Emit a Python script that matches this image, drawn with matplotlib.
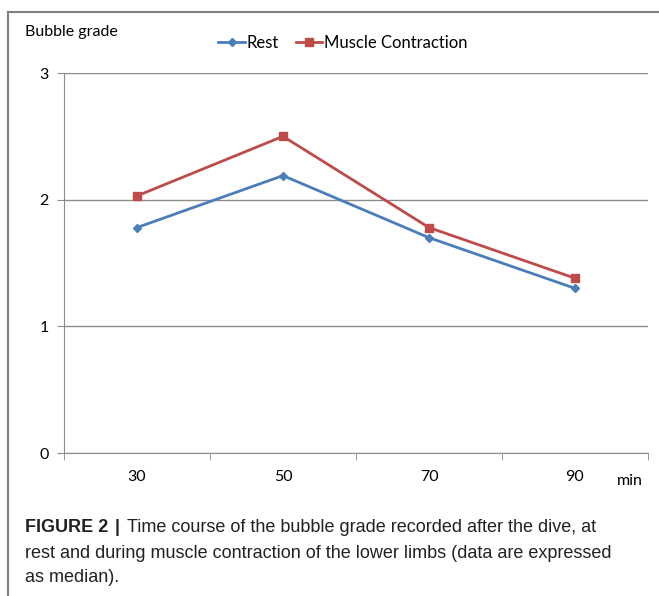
import matplotlib.pyplot as plt
from matplotlib.lines import Line2D

times = ["30", "50", "70", "90"]
rest = [1.78, 2.19, 1.70, 1.30]
contraction = [2.03, 2.50, 1.78, 1.38]
yticks = [0, 1, 2, 3]

blue = "#4A7EBB"
red = "#BE4B48"
grey = "#8c8c8c"

plt.rcParams['font.family'] = ['Lato', 'DejaVu Sans']

fig = plt.figure(figsize=(6.59, 5.96), dpi=100)
ax = fig.add_axes([0.0971, 0.2399, 0.8862, 0.6376])

x = list(range(len(times)))
ax.plot(x, rest, color=blue, lw=2, marker="D", ms=4, label="Rest")
ax.plot(x, contraction, color=red, lw=2, marker="s", ms=6, label="Muscle Contraction")

ax.set_xlim(-0.5, len(times) - 0.5)
ax.set_ylim(0, 3)
ax.set_yticks(yticks)
ax.set_yticklabels([str(v) for v in yticks], fontsize=11.5)
ax.set_xticks(x)
ax.set_xticklabels(times, fontsize=11.5)
ax.tick_params(axis="x", length=0, pad=12)
ax.set_xticks([i - 0.5 for i in range(len(times) + 1)], minor=True)
ax.tick_params(axis="x", which="minor", length=5, color=grey, direction="out")
ax.tick_params(axis="y", length=5, color=grey, direction="out", pad=6)
ax.grid(axis="y", color=grey, lw=1)
ax.set_axisbelow(True)
for s in ["top", "right"]:
    ax.spines[s].set_visible(False)
for s in ["left", "bottom"]:
    ax.spines[s].set_color(grey)

fig.text(25 / 659, 1 - 32 / 596, "Bubble grade", fontsize=11.5, va="center")
fig.text(617 / 659, 1 - 481 / 596, "min", fontsize=11.5, va="center")

leg = fig.legend(loc="center", bbox_to_anchor=(343 / 659, 1 - 43 / 596), ncol=2,
                 frameon=False, fontsize=12, handlelength=1.6, columnspacing=1.0,
                 handletextpad=0.1)

# frame around the figure
fig.add_artist(Line2D([8 / 659, 1], [1 - 12 / 596] * 2, color="#7f7f7f", lw=1.5))
fig.add_artist(Line2D([8 / 659] * 2, [0, 1 - 12 / 596], color="#7f7f7f", lw=1.5))

# caption
cap = dict(fontsize=13, family=["Liberation Sans", "DejaVu Sans"], va="center", color="#222222")
t1 = fig.text(25 / 659, 1 - 527 / 596, "FIGURE 2", fontweight="bold", **cap)
fig.canvas.draw()
bb = t1.get_window_extent()
x1 = bb.x1 / fig.bbox.width
t2 = fig.text(x1 + 6 / 659, 1 - 527 / 596, "|", fontweight="bold", **cap)
fig.canvas.draw()
bb = t2.get_window_extent()
x2 = bb.x1 / fig.bbox.width
fig.text(x2 + 8 / 659, 1 - 527 / 596,
         "Time course of the bubble grade recorded after the dive, at", **cap)
fig.text(25 / 659, 1 - 553 / 596,
         "rest and during muscle contraction of the lower limbs (data are expressed", **cap)
fig.text(25 / 659, 1 - 578 / 596, "as median).", **cap)

fig.savefig("out.png", dpi=100)
